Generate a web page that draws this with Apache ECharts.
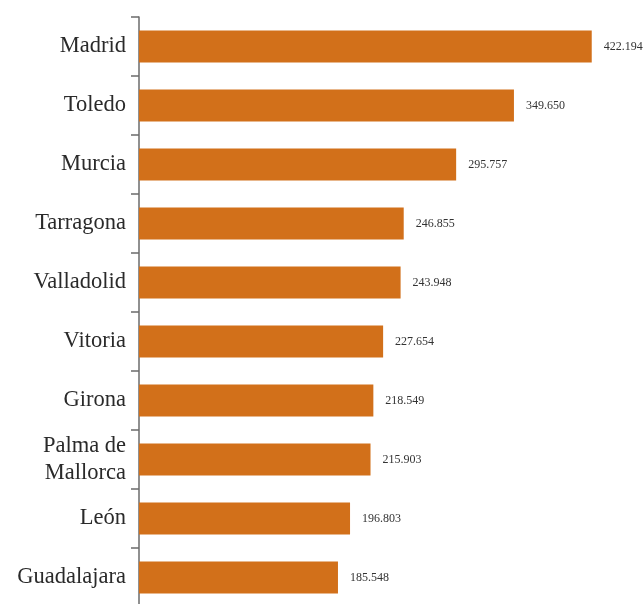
<!DOCTYPE html>
<html><head><meta charset="utf-8">
<script src="https://cdn.jsdelivr.net/npm/echarts@6/dist/echarts.min.js"></script>
<style>html,body{margin:0;padding:0;background:#fff;overflow:hidden}#c{width:643px;height:612px}</style>
</head><body><div id="c"></div>
<script>
var categories = ['Madrid','Toledo','Murcia','Tarragona','Valladolid','Vitoria','Girona','Palma de\nMallorca','León','Guadalajara'];
var values = [422.194, 349.650, 295.757, 246.855, 243.948, 227.654, 218.549, 215.903, 196.803, 185.548];
var chart = echarts.init(document.getElementById('c'));
chart.setOption({
  animation: false,
  grid: {left: 139, right: 0, top: 17, height: 590},
  xAxis: {type: 'value', min: 0, max: 470, show: false},
  yAxis: {
    type: 'category', data: categories, inverse: true,
    axisLine: {lineStyle: {color: '#6b6b6b', width: 1.5}},
    axisTick: {show: true, length: 8, lineStyle: {color: '#6b6b6b', width: 1.5}},
    axisLabel: {fontFamily: 'Liberation Serif', fontSize: 22.5, color: '#2a2a2a', margin: 13, lineHeight: 27}
  },
  series: [{
    type: 'bar', data: values, barWidth: 32,
    itemStyle: {color: '#D2701A'},
    label: {show: true, position: 'right', distance: 12, fontFamily: 'Liberation Serif', fontSize: 12, color: '#333',
      formatter: function(p){ return p.value.toFixed(3); }}
  }]
});
</script></body></html>
